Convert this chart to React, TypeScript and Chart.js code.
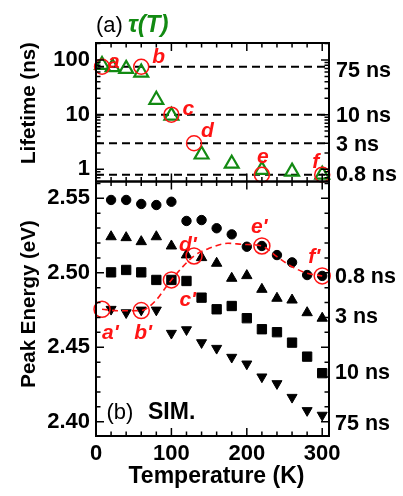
import { useEffect, useRef } from "react";
import { Chart, registerables } from "chart.js";

Chart.register(...registerables);

const FONT = "'Liberation Sans', Arial, Helvetica, sans-serif";
const GREEN = "#128a12";
const RED = "#ff1414";
const BLACK = "#000";

// ---- (a) lifetime tau(T) ----
const lifetimeTemps = [8, 22, 40, 60, 80, 100, 140, 180, 220, 260, 300];
const lifetimes = [81, 73.6, 68.6, 58.8, 18.7, 9.6, 1.87, 1.27, 0.98, 0.91, 0.8];
const refLifetimes = [75, 10, 3, 0.8];
const refLifetimeLabels = ["75 ns", "10 ns", "3 ns", "0.8 ns"];
const markedTemps = [8, 60, 100, 130, 220, 300];
const markedLifetimes = [75, 75, 10, 3, 0.8, 0.8];
const topLetters = ["a", "b", "c", "d", "e", "f"];
const lifetimeTicks = [1, 10, 100];

// ---- (b) simulated peak energy ----
const simTemps = [20, 40, 60, 80, 100, 120, 140, 160, 180, 200, 220, 240, 260, 280, 300];
const energy08ns = [2.5489, 2.5489, 2.5462, 2.5455, 2.5477, 2.5348, 2.5354, 2.5299, 2.5258, 2.5175, 2.518, 2.5119, 2.507, 2.4985, 2.4979];
const energy3ns = [2.5242, 2.5236, 2.5209, 2.5242, 2.518, 2.512, 2.5102, 2.5064, 2.4963, 2.4981, 2.4889, 2.4829, 2.4817, 2.4732, 2.4695];
const energy10ns = [2.5003, 2.5019, 2.5003, 2.4952, 2.4952, 2.4945, 2.4833, 2.4755, 2.4777, 2.4695, 2.4621, 2.4601, 2.4531, 2.4437, 2.4326];
const energy75ns = [2.4755, 2.4732, 2.475, 2.475, 2.4594, 2.4618, 2.4531, 2.4493, 2.4433, 2.4388, 2.4301, 2.4256, 2.4164, 2.4075, 2.4044];
const seriesLabels = ["0.8 ns", "3 ns", "10 ns", "75 ns"];
const markedEnergies = [2.4755, 2.4746, 2.4952, 2.5113, 2.518, 2.4979];
const bottomLetters = ["a'", "b'", "c'", "d'", "e'", "f'"];
const guideTemps = [8, 30, 60, 80, 90, 100, 130, 150, 175, 195, 220, 240, 260, 280, 300];
const guideEnergies = [2.4755, 2.4745, 2.4746, 2.4818, 2.4885, 2.4952, 2.5113, 2.5164, 2.5198, 2.5191, 2.518, 2.5108, 2.5041, 2.4997, 2.4979];
const energyTicks = [2.4, 2.45, 2.5, 2.55];
const tempTicks = [0, 100, 200, 300];

// axis ranges
const T_MIN = 0;
const T_MAX = 309;
const TAU_MIN = 0.605;
const TAU_MAX = 204;
const E_MIN = 2.3904;
const E_MAX = 2.5613;

// text placement (pixel offsets from the mark each label belongs to)
const topLetterOffsets = [[6, 1], [11, -4], [11, 0], [7, -6], [-5, -12], [-10, -7]];
const bottomLetterOffsets = [[0, 30], [-7, 28], [8, 26], [-15, -5], [-11, -13], [-14, -13]];
const topSideOffsets = [4, 1, 2, 0.5];
const bottomSideOffsets = [1.5, -1.6, 0, 9];

const font = (size: number, weight = "bold", style = "normal") => `${style} ${weight} ${size}px ${FONT}`;
const pts = (xs: number[], ys: number[]) => xs.map((x, i) => ({ x, y: ys[i] }));

function logMinorTicks(): number[] {
  const out: number[] = [];
  for (let d = 0.1; d <= 100; d *= 10) {
    for (let k = 2; k <= 9; k++) {
      const v = +(k * d).toPrecision(3);
      if (v > TAU_MIN && v < TAU_MAX) out.push(v);
    }
  }
  return out;
}
function energyMinorTicks(): number[] {
  const out: number[] = [];
  for (let i = 239; i <= 256; i++) {
    const v = i / 100;
    if (v > E_MIN && v < E_MAX) out.push(v);
  }
  return out;
}

// keep the plot box exactly where the layout padding puts it
function fixedBox(size: { width?: number; height?: number }) {
  return (s: any) => {
    if (size.width !== undefined) s.width = size.width;
    if (size.height !== undefined) s.height = size.height;
    s.paddingTop = 0;
    s.paddingBottom = 0;
    s.paddingLeft = 0;
    s.paddingRight = 0;
  };
}

// Box frame with inward ticks on all four sides
function framePlugin(yMajor: number[], yMinor: number[]) {
  return {
    id: "frameTicks",
    afterDraw(chart: any) {
      const { ctx, chartArea: a, scales } = chart;
      const xs = scales.x;
      const ys = scales.y;
      ctx.save();
      ctx.strokeStyle = BLACK;
      ctx.lineWidth = 1.5;
      ctx.beginPath();
      for (let t = 0; t <= T_MAX; t += 20) {
        const px = xs.getPixelForValue(t);
        const len = t % 100 === 0 ? 8 : 4.5;
        ctx.moveTo(px, a.top);
        ctx.lineTo(px, a.top + len);
        ctx.moveTo(px, a.bottom);
        ctx.lineTo(px, a.bottom - len);
      }
      const yt = (v: number, len: number) => {
        const py = ys.getPixelForValue(v);
        ctx.moveTo(a.left, py);
        ctx.lineTo(a.left + len, py);
        ctx.moveTo(a.right, py);
        ctx.lineTo(a.right - len, py);
      };
      yMajor.forEach((v) => yt(v, 8));
      yMinor.forEach((v) => yt(v, 4.5));
      ctx.stroke();
      ctx.lineWidth = 2;
      ctx.strokeRect(a.left, a.top, a.right - a.left, a.bottom - a.top);
      ctx.restore();
    },
  };
}

function sideText(ctx: CanvasRenderingContext2D, text: string, x: number, y: number, f: string, color = BLACK, align: CanvasTextAlign = "left", baseline: CanvasTextBaseline = "middle") {
  ctx.font = f;
  ctx.fillStyle = color;
  ctx.textAlign = align;
  ctx.textBaseline = baseline;
  ctx.fillText(text, x, y);
}

function rotatedText(ctx: CanvasRenderingContext2D, text: string, x: number, y: number, f: string) {
  ctx.save();
  ctx.translate(x, y);
  ctx.rotate(-Math.PI / 2);
  sideText(ctx, text, 0, 0, f, BLACK, "center", "middle");
  ctx.restore();
}

const topTextPlugin = {
  id: "topText",
  afterDraw(chart: any) {
    const { ctx, chartArea: a, scales } = chart;
    ctx.save();
    // panel title
    sideText(ctx, "(a)", a.left, 32, font(22, "normal"), BLACK, "left", "alphabetic");
    sideText(ctx, "τ(T)", a.left + 32, 32, font(24, "bold", "italic"), GREEN, "left", "alphabetic");
    // axis title
    rotatedText(ctx, "Lifetime (ns)", a.left - 67, 103, font(20.5));
    // reference lifetimes on the right
    refLifetimes.forEach((v, i) => {
      sideText(ctx, refLifetimeLabels[i], a.right + 7, scales.y.getPixelForValue(v) + topSideOffsets[i], font(21.5));
    });
    // letters beside the marked points
    const meta = chart.getDatasetMeta(0);
    meta.data.forEach((p: any, i: number) => {
      const [dx, dy] = topLetterOffsets[i];
      sideText(ctx, topLetters[i], p.x + dx, p.y + dy, font(21, "bold", "italic"), RED, "left", "alphabetic");
    });
    ctx.restore();
  },
};

const bottomTextPlugin = {
  id: "bottomText",
  afterDraw(chart: any) {
    const { ctx, chartArea: a, scales } = chart;
    ctx.save();
    rotatedText(ctx, "Peak Energy (eV)", a.left - 67, a.top + 122.5, font(20.5));
    sideText(ctx, "Temperature (K)", a.left + 120.5, a.bottom + 41, font(23), BLACK, "center", "middle");
    sideText(ctx, "(b)", a.left + 10.5, a.bottom - 23, font(22, "normal"));
    sideText(ctx, "SIM.", a.left + 52, a.bottom - 23, font(23));
    [energy08ns, energy3ns, energy10ns, energy75ns].forEach((s, i) => {
      const v = s[s.length - 1];
      sideText(ctx, seriesLabels[i], a.right + 6, scales.y.getPixelForValue(v) + bottomSideOffsets[i], font(21.5));
    });
    const meta = chart.getDatasetMeta(0);
    meta.data.forEach((p: any, i: number) => {
      const [dx, dy] = bottomLetterOffsets[i];
      sideText(ctx, bottomLetters[i], p.x + dx, p.y + dy, font(21, "bold", "italic"), RED, "left", "alphabetic");
    });
    ctx.restore();
  },
};

const tickFont = { family: FONT, size: 22, weight: "bold" as const };

function topConfig(): any {
  const refLines = refLifetimes.map((v) => ({
    data: [{ x: T_MIN, y: v }, { x: T_MAX, y: v }],
    showLine: true,
    borderColor: BLACK,
    borderWidth: 2,
    borderDash: [8, 5],
    pointRadius: 0,
  }));
  return {
    type: "scatter",
    data: {
      datasets: [
        {
          data: pts(markedTemps, markedLifetimes),
          pointStyle: "circle",
          pointRadius: 7.5,
          borderColor: RED,
          borderWidth: 1.5,
          backgroundColor: "rgba(0,0,0,0)",
          clip: false,
        },
        {
          data: pts(lifetimeTemps, lifetimes),
          pointStyle: "triangle",
          pointRadius: 8,
          borderColor: GREEN,
          borderWidth: 2.2,
          backgroundColor: "rgba(0,0,0,0)",
          clip: false,
        },
        ...refLines,
      ],
    },
    options: {
      responsive: false,
      animation: false,
      layout: { autoPadding: false, padding: { top: 43, right: 74, bottom: 1.5, left: 0 } },
      plugins: { legend: { display: false }, tooltip: { enabled: false } },
      scales: {
        x: { type: "linear", min: T_MIN, max: T_MAX, display: false },
        y: {
          type: "logarithmic",
          min: TAU_MIN,
          max: TAU_MAX,
          afterFit: fixedBox({ width: 96 }),
          afterBuildTicks: (s: any) => { s.ticks = lifetimeTicks.map((value) => ({ value })); },
          grid: { display: false, drawTicks: false },
          border: { display: false },
          ticks: { padding: 6, color: BLACK, font: tickFont, callback: (v: number) => String(v) },
        },
      },
    },
    plugins: [framePlugin(lifetimeTicks, logMinorTicks()), topTextPlugin],
  };
}

function bottomConfig(): any {
  const marker = (data: number[], style: string, radius: number, rotation = 0) => ({
    data: pts(simTemps, data),
    pointStyle: style,
    pointRadius: radius,
    pointRotation: rotation,
    backgroundColor: BLACK,
    borderColor: BLACK,
    borderWidth: 1,
  });
  return {
    type: "scatter",
    data: {
      datasets: [
        {
          data: pts(markedTemps, markedEnergies),
          pointStyle: "circle",
          pointRadius: 8,
          borderColor: RED,
          borderWidth: 1.5,
          backgroundColor: "rgba(0,0,0,0)",
          clip: false,
        },
        {
          data: pts(guideTemps, guideEnergies),
          showLine: true,
          borderColor: RED,
          borderWidth: 1.6,
          borderDash: [6, 4],
          pointRadius: 0,
          tension: 0.4,
          cubicInterpolationMode: "monotone",
        },
        marker(energy08ns, "circle", 4.7),
        marker(energy3ns, "triangle", 6),
        marker(energy10ns, "rect", 6.6),
        marker(energy75ns, "triangle", 5.8, 180),
      ],
    },
    options: {
      responsive: false,
      animation: false,
      layout: { autoPadding: false, padding: { top: 11.5, right: 74, bottom: 0, left: 0 } },
      plugins: { legend: { display: false }, tooltip: { enabled: false } },
      scales: {
        x: {
          type: "linear",
          min: T_MIN,
          max: T_MAX,
          afterFit: fixedBox({ height: 60 }),
          afterBuildTicks: (s: any) => { s.ticks = tempTicks.map((value) => ({ value })); },
          grid: { display: false, drawTicks: false },
          border: { display: false },
          ticks: { padding: 5, color: BLACK, font: tickFont, maxRotation: 0, callback: (v: number) => String(v) },
        },
        y: {
          type: "linear",
          min: E_MIN,
          max: E_MAX,
          afterFit: fixedBox({ width: 96 }),
          afterBuildTicks: (s: any) => { s.ticks = energyTicks.map((value) => ({ value })); },
          grid: { display: false, drawTicks: false },
          border: { display: false },
          ticks: { padding: 6, color: BLACK, font: tickFont, callback: (v: number) => v.toFixed(2) },
        },
      },
    },
    plugins: [framePlugin(energyTicks, energyMinorTicks()), bottomTextPlugin],
  };
}

export default function App() {
  const topRef = useRef<HTMLCanvasElement>(null);
  const bottomRef = useRef<HTMLCanvasElement>(null);

  useEffect(() => {
    const top = new Chart(topRef.current!, topConfig());
    const bottom = new Chart(bottomRef.current!, bottomConfig());
    return () => {
      top.destroy();
      bottom.destroy();
    };
  }, []);

  return (
    <div style={{ position: "absolute", left: 0, top: 0, width: 403, height: 496, background: "#fff" }}>
      <canvas ref={topRef} width={403} height={183} style={{ position: "absolute", left: 0, top: 0 }} />
      <canvas ref={bottomRef} width={403} height={326} style={{ position: "absolute", left: 0, top: 170 }} />
    </div>
  );
}
